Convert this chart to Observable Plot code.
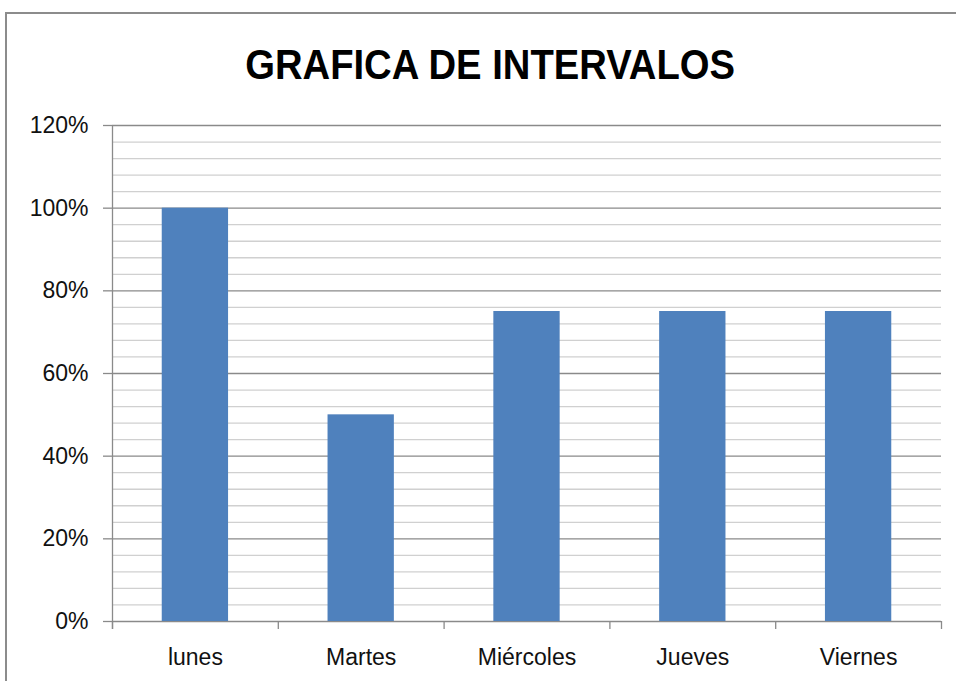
<!DOCTYPE html>
<html>
<head>
<meta charset="utf-8">
<script src="https://cdn.jsdelivr.net/npm/d3@7"></script>
<script src="https://cdn.jsdelivr.net/npm/@observablehq/plot@0.6"></script>
<style>
  html, body { margin: 0; padding: 0; background: #fff; width: 956px; height: 681px; overflow: hidden; }
  #frame { position: absolute; left: 5px; top: 12px; width: 1100px; height: 800px; border-left: 2px solid #8c8c8c; border-top: 2px solid #8c8c8c; box-sizing: border-box; }
  #title { position: absolute; left: 5px; width: 970px; top: 44px; text-align: center; font-family: "Liberation Sans", Arial, sans-serif; font-weight: bold; font-size: 42px; line-height: 42px; color: #000; }
  #title span { display: inline-block; transform: scaleX(0.91); }
  #chart { position: absolute; left: 0; top: 100px; }
</style>
</head>
<body>
<div id="frame"></div>
<div id="title"><span>GRAFICA DE INTERVALOS</span></div>
<div id="chart"></div>
<script>
const days = ["lunes", "Martes", "Miércoles", "Jueves", "Viernes"];
const values = [1.00, 0.50, 0.75, 0.75, 0.75];
const yTicks = [0, 0.2, 0.4, 0.6, 0.8, 1.0, 1.2];

const data = days.map((day, i) => ({day, i, value: values[i]}));
const minorTicks = d3.range(0, 31).map(k => k * 0.04).filter(v => Math.abs(v * 5 - Math.round(v * 5)) > 1e-6);
const bounds = d3.range(0, days.length + 1);
const centers = days.map((d, i) => i + 0.5);

const chart = Plot.plot({
  width: 956,
  height: 581,
  marginLeft: 112,
  marginRight: 15,
  marginTop: 25,
  marginBottom: 60,
  style: { fontFamily: "'Liberation Sans', Arial, sans-serif", fontSize: "23px", color: "#111", background: "transparent" },
  x: { type: "linear", domain: [0, days.length], axis: null },
  y: { domain: [0, 1.2], axis: null },
  marks: [
    Plot.ruleY(minorTicks, { stroke: "#d0d0d0", strokeWidth: 1.3 }),
    Plot.ruleY(yTicks, { stroke: "#8a8a8a", strokeWidth: 1.3 }),
    Plot.rectY(data, { x1: d => d.i + 0.3, x2: d => d.i + 0.7, y: "value", fill: "#4F81BD" }),
    Plot.ruleX([0], { stroke: "#8a8a8a", strokeWidth: 1.3, insetBottom: -8 }),
    Plot.axisX(bounds, { tickSize: 8, tickFormat: () => "", label: null, stroke: "#8a8a8a", strokeWidth: 1.3 }),
    Plot.axisX(centers, { tickSize: 0, tickPadding: 27, label: null, tickFormat: v => days[Math.round(v - 0.5)], fontSize: 23, fill: "#111" }),
    Plot.axisY(yTicks, { tickSize: 9, tickPadding: 15, label: null, tickFormat: d3.format(".0%"), stroke: "#8a8a8a", strokeWidth: 1.3, fontSize: 23, fill: "#111" })
  ]
});
document.getElementById("chart").appendChild(chart);
</script>
</body>
</html>
